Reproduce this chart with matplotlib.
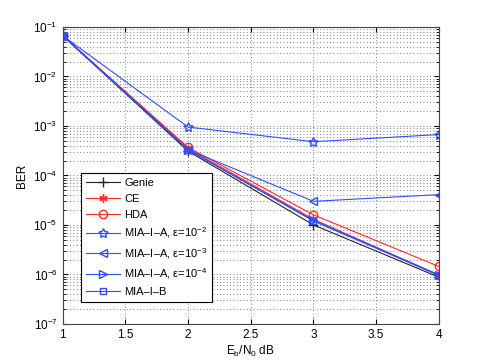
import numpy as np
import matplotlib.pyplot as plt

plt.rcParams['font.family'] = ['Liberation Sans', 'DejaVu Sans']
plt.rcParams['mathtext.fontset'] = 'custom'
plt.rcParams['mathtext.rm'] = 'Liberation Sans'

# data
ebn0 = [1, 2, 3, 4]
ber_genie = [6.7e-2, 3.1e-4, 1.0e-5, 8.8e-7]
ber_ce = [6.7e-2, 3.5e-4, 1.3e-5, 9.7e-7]
ber_hda = [6.7e-2, 3.7e-4, 1.6e-5, 1.45e-6]
ber_mia_e2 = [6.7e-2, 9.5e-4, 4.8e-4, 6.7e-4]
ber_mia_e3 = [6.7e-2, 3.3e-4, 3.0e-5, 4.1e-5]
ber_mia_e4 = [6.7e-2, 3.3e-4, 1.25e-5, 9.8e-7]
ber_mia_b = [6.7e-2, 3.3e-4, 1.2e-5, 9.5e-7]

labels = ["Genie", "CE", "HDA",
          "MIA\u2013I\u2013A, \u03b5=10$^{-2}$",
          "MIA\u2013I\u2013A, \u03b5=10$^{-3}$",
          "MIA\u2013I\u2013A, \u03b5=10$^{-4}$",
          "MIA\u2013I\u2013B"]

blue = "#2f4dff"
red = "#ff2a2a"

fig = plt.figure(figsize=(4.85, 3.64), dpi=100)
ax = fig.add_axes([0.129, 0.110, 0.776, 0.816])

ax.semilogy(ebn0, ber_genie, color="#222222", marker="+", ms=7, lw=0.8, label=labels[0])
ax.semilogy(ebn0, ber_ce, color=red, marker=(6, 2, 0), ms=6, lw=0.8, label=labels[1])
ax.semilogy(ebn0, ber_hda, color=red, marker="o", mfc="none", ms=6, lw=0.8, label=labels[2])
ax.semilogy(ebn0, ber_mia_e2, color=blue, marker=(5, 1, 0), mfc="none", ms=7, lw=0.8, label=labels[3])
ax.semilogy(ebn0, ber_mia_e3, color=blue, marker="<", mfc="none", ms=6, lw=0.8, label=labels[4])
ax.semilogy(ebn0, ber_mia_e4, color=blue, marker=">", mfc="none", ms=6, lw=0.8, label=labels[5])
ax.semilogy(ebn0, ber_mia_b, color=blue, marker="s", mfc="none", ms=5, lw=0.8, label=labels[6])

ax.set_xlim(1, 4)
ax.set_ylim(1e-7, 1e-1)
ax.set_xticks([1, 1.5, 2, 2.5, 3, 3.5, 4])
ax.set_xticklabels(["1", "1.5", "2", "2.5", "3", "3.5", "4"])
ax.grid(True, which="major", ls=(0, (1, 3)), color="#555555", lw=0.6)
ax.grid(True, which="minor", axis="y", ls=(0, (1, 3)), color="#555555", lw=0.6)
ax.tick_params(which="both", direction="in", top=True, right=True, labelsize=8.5)
for s in ax.spines.values():
    s.set_color("#444444")

ax.set_xlabel(r"E$_\mathrm{b}$/N$_\mathrm{0}$ dB", fontsize=8.5, labelpad=2)
ax.set_ylabel("BER", fontsize=8.5)

leg = ax.legend(loc="lower left", bbox_to_anchor=(0.035, 0.055), fontsize=8,
                fancybox=False, edgecolor="black", framealpha=1,
                handlelength=3.0, handletextpad=0.4, labelspacing=0.52,
                borderpad=0.45)
leg.get_frame().set_linewidth(0.8)

fig.savefig("out.png", dpi=100)
